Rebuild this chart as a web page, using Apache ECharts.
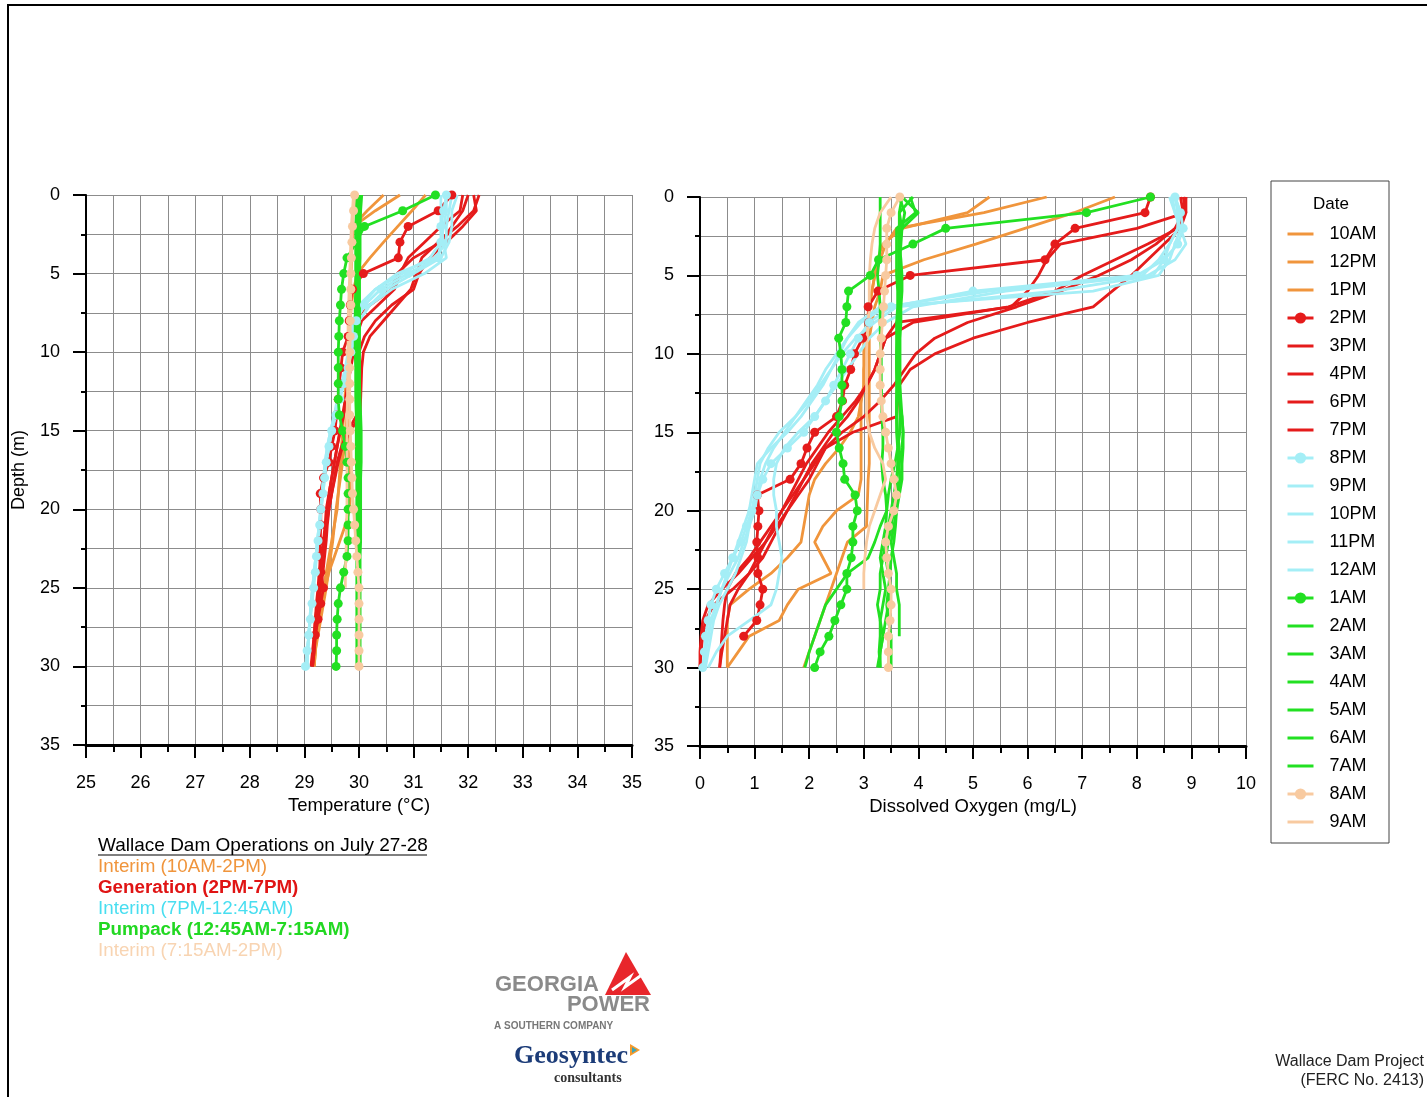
<!DOCTYPE html>
<html>
<head>
<meta charset="utf-8">
<title>Wallace Dam profiles</title>
<script src="https://cdn.jsdelivr.net/npm/echarts@6/dist/echarts.min.js"></script>
<style>
html, body { margin: 0; padding: 0; background: #fff; }
#chart { width: 1427px; height: 1097px; }
</style>
</head>
<body>
<div id="chart"></div>
<script>
// depth of each reading (m), shared by all profiles
const depths = [0, 1, 2, 3, 4, 5, 6, 7, 8, 9, 10, 11, 12, 13, 14, 15, 16, 17, 18, 19, 20, 21, 22, 23, 24, 25, 26, 27, 28, 29, 30];

const seriesNames = ['10AM', '12PM', '1PM', '2PM', '3PM', '4PM', '6PM', '7PM', '8PM', '9PM', '10PM', '11PM', '12AM',
  '1AM', '2AM', '3AM', '4AM', '5AM', '6AM', '7AM', '8AM', '9AM'];
const markerNames = ['2PM', '8PM', '1AM', '8AM'];

const tempTicks = [25, 26, 27, 28, 29, 30, 31, 32, 33, 34, 35];
const doTicks = [0, 1, 2, 3, 4, 5, 6, 7, 8, 9, 10];
const depthTicks = [0, 5, 10, 15, 20, 25, 30, 35];

// temperature (°C) by depth
const temp10AM = [30.45, 30.15, 29.88, 29.87, 29.86, 29.85, 29.84, 29.83, 29.82, 29.82, 29.81, 29.8, 29.8, 29.79, 29.78, 29.76, 29.73, 29.7, 29.66, 29.62, 29.58, 29.55, 29.52, 29.48, 29.44, 29.4, 29.35, 29.3, 29.25, 29.2, 29.18];
const temp12PM = [30.75, 30.3, 29.9, 29.88, 29.86, 29.85, 29.84, 29.83, 29.82, 29.82, 29.82, 29.82, 29.82, 29.81, 29.8, 29.8, 29.8, 29.82, 29.83, 29.84, 29.83, 29.75, 29.65, 29.55, 29.45, 29.38, 29.32, 29.27, 29.23, 29.2, 29.18];
const temp1PM = [31.22, 30.97, 30.71, 30.45, 30.2, 29.97, 29.9, 29.86, 29.84, 29.82, 29.8, 29.78, 29.76, 29.74, 29.72, 29.7, 29.68, 29.66, 29.64, 29.62, 29.6, 29.55, 29.5, 29.45, 29.4, 29.35, 29.3, 29.26, 29.22, 29.2, 29.18];
const temp2PM = [31.7, 31.45, 30.9, 30.75, 30.72, 30.08, 29.88, 29.84, 29.82, 29.8, 29.7, 29.67, 29.64, 29.62, 29.59, 29.56, 29.5, 29.45, 29.35, 29.29, 29.3, 29.3, 29.29, 29.28, 29.3, 29.35, 29.3, 29.25, 29.2];
const temp3PM = [31.9, 31.85, 31.5, 31.2, 30.9, 30.75, 30.65, 30.35, 30.05, 29.95, 29.9, 29.85, 29.8, 29.75, 29.7, 29.65, 29.6, 29.55, 29.5, 29.45, 29.4, 29.38, 29.35, 29.3, 29.27, 29.25, 29.22, 29.2, 29.18, 29.16, 29.15];
const temp4PM = [32.0, 31.9, 31.7, 31.5, 31.0, 30.7, 30.6, 30.2, 29.95, 29.9, 29.85, 29.82, 29.8, 29.78, 29.72, 29.66, 29.6, 29.55, 29.5, 29.45, 29.42, 29.4, 29.38, 29.35, 29.3, 29.27, 29.25, 29.22, 29.2, 29.18, 29.15];
const temp6PM = [32.1, 32.15, 31.9, 31.6, 31.3, 31.1, 31.0, 30.6, 30.3, 30.1, 30.0, 29.98, 29.97, 29.97, 29.96, 29.8, 29.68, 29.6, 29.55, 29.5, 29.45, 29.42, 29.4, 29.37, 29.34, 29.3, 29.27, 29.24, 29.2, 29.18, 29.15];
const temp7PM = [32.2, 32.1, 31.8, 31.45, 31.15, 31.05, 30.95, 30.7, 30.45, 30.2, 30.08, 30.05, 30.04, 30.03, 30.02, 29.85, 29.7, 29.62, 29.56, 29.5, 29.45, 29.4, 29.37, 29.34, 29.3, 29.27, 29.24, 29.2, 29.18, 29.15, 29.12];
const temp8PM = [31.6, 31.55, 31.5, 31.5, 31.45, 30.9, 30.4, 30.1, 29.95, 29.9, 29.85, 29.8, 29.72, 29.65, 29.58, 29.5, 29.45, 29.4, 29.37, 29.34, 29.3, 29.28, 29.25, 29.22, 29.2, 29.17, 29.14, 29.11, 29.08, 29.05, 29.02];
const temp9PM = [31.7, 31.65, 31.6, 31.6, 31.4, 30.7, 30.3, 30.0, 29.9, 29.85, 29.8, 29.75, 29.68, 29.6, 29.55, 29.48, 29.42, 29.38, 29.35, 29.32, 29.3, 29.27, 29.24, 29.21, 29.18, 29.15, 29.12, 29.1, 29.08, 29.06, 29.04];
const temp10PM = [31.8, 31.7, 31.7, 31.65, 31.5, 31.0, 30.5, 30.2, 30.0, 29.9, 29.82, 29.76, 29.7, 29.63, 29.56, 29.5, 29.45, 29.4, 29.36, 29.33, 29.3, 29.27, 29.24, 29.21, 29.18, 29.15, 29.13, 29.1, 29.08, 29.06, 29.05];
const temp11PM = [31.5, 31.5, 31.5, 31.55, 31.6, 31.2, 30.6, 30.2, 30.0, 29.92, 29.86, 29.8, 29.72, 29.64, 29.57, 29.5, 29.44, 29.4, 29.37, 29.34, 29.31, 29.28, 29.25, 29.22, 29.19, 29.16, 29.13, 29.1, 29.08, 29.06, 29.05];
const temp12AM = [31.6, 31.6, 31.55, 31.5, 31.3, 30.8, 30.3, 30.05, 29.95, 29.88, 29.82, 29.76, 29.7, 29.62, 29.55, 29.48, 29.42, 29.38, 29.35, 29.32, 29.3, 29.27, 29.24, 29.21, 29.18, 29.15, 29.12, 29.1, 29.08, 29.06, 29.04];
const temp1AM = [31.4, 30.8, 30.1, 29.95, 29.78, 29.72, 29.68, 29.66, 29.64, 29.63, 29.62, 29.62, 29.62, 29.62, 29.64, 29.7, 29.75, 29.78, 29.8, 29.8, 29.8, 29.8, 29.8, 29.78, 29.72, 29.66, 29.62, 29.6, 29.59, 29.59, 29.58];
const temp2AM = [29.98, 29.97, 29.97, 29.97, 29.97, 29.97, 29.96, 29.96, 29.96, 29.96, 29.96, 29.96, 29.96, 29.97, 29.97, 29.98, 29.98, 29.98, 29.98, 29.98, 29.98, 29.98, 29.98, 29.98, 29.98, 29.98, 29.98, 29.98, 29.98, 29.98, 29.98];
const temp3AM = [30.02, 30.0, 30.0, 29.99, 29.99, 29.99, 29.99, 29.99, 29.99, 29.99, 29.99, 30.0, 30.0, 30.0, 30.01, 30.01, 30.01, 30.01, 30.01, 30.01, 30.0, 30.0, 30.0, 30.0, 30.0, 30.0, 30.0, 30.0, 30.0];
const temp4AM = [29.95, 29.95, 29.94, 29.94, 29.94, 29.94, 29.94, 29.93, 29.93, 29.93, 29.93, 29.94, 29.94, 29.94, 29.95, 29.95, 29.95, 29.95, 29.96, 29.96, 29.96, 29.96, 29.96, 29.96, 29.96, 29.96, 29.96, 29.96, 29.96, 29.96, 29.96];
const temp5AM = [30.0, 29.99, 29.98, 29.98, 29.98, 29.98, 29.98, 29.97, 29.97, 29.97, 29.97, 29.97, 29.97, 29.98, 29.98, 29.99, 29.99, 30.0, 30.0, 30.0, 30.0, 30.0, 30.0, 30.0, 29.99, 29.99, 29.99, 29.99, 29.99, 29.99, 29.99];
const temp6AM = [30.05, 30.03, 30.02, 30.02, 30.02, 30.01, 30.01, 30.01, 30.01, 30.01, 30.01, 30.01, 30.01, 30.02, 30.03, 30.04, 30.04, 30.04, 30.03, 30.03, 30.03, 30.03, 30.03, 30.02, 30.02, 30.02, 30.02, 30.02, 30.02, 30.02, 30.02];
const temp7AM = [29.97, 29.96, 29.95, 29.95, 29.95, 29.95, 29.95, 29.95, 29.95, 29.95, 29.95, 29.95, 29.95, 29.96, 29.96, 29.97, 29.97, 29.97, 29.97, 29.97, 29.97, 29.97, 29.98, 29.98, 29.98, 29.98, 29.98, 29.98, 29.98, 29.98, 29.98];
const temp8AM = [29.92, 29.9, 29.88, 29.87, 29.86, 29.85, 29.85, 29.85, 29.84, 29.84, 29.83, 29.83, 29.83, 29.83, 29.83, 29.84, 29.85, 29.86, 29.87, 29.88, 29.9, 29.92, 29.94, 29.96, 29.98, 30.0, 30.0, 30.0, 30.0, 30.0, 30.0];
const temp9AM = [29.9, 29.88, 29.86, 29.85, 29.84, 29.83, 29.82, 29.81, 29.8, 29.8, 29.8, 29.8, 29.79, 29.79, 29.78, 29.78, 29.78, 29.78, 29.78, 29.78, 29.78, 29.77, 29.77, 29.76, 29.75, 29.75];

// dissolved oxygen (mg/L) by depth
const do10AM = [5.3, 4.9, 3.7, 3.35, 3.25, 3.2, 3.15, 3.1, 3.1, 3.05, 3.05, 3.0, 3.0, 2.95, 2.9, 2.75, 2.55, 2.3, 2.1, 2.0, 1.95, 1.9, 1.85, 1.6, 1.3, 0.9, 0.55, 0.5, 0.5, 0.5, 0.5];
const do12PM = [6.35, 5.2, 3.6, 3.4, 3.3, 3.2, 3.15, 3.1, 3.05, 3.0, 3.0, 3.0, 3.0, 2.95, 2.95, 2.95, 2.95, 2.95, 2.95, 2.9, 2.5, 2.25, 2.1, 2.25, 2.4, 1.8, 1.6, 1.45, 0.9, 0.7, 0.5];
const do1PM = [7.6, 6.85, 5.95, 5.05, 4.1, 3.35, 3.3, 3.2, 3.15, 3.1, 3.1, 3.1, 3.1, 3.1, 3.1, 3.1, 3.1, 3.1, 3.08, 3.07, 3.06, 3.05, 2.7, 2.6, 2.5, 2.4, 2.3, 2.2, 2.1, 2.0, 1.9];
const do2PM = [8.25, 8.15, 6.87, 6.5, 6.32, 3.85, 3.26, 3.08, 3.09, 2.98, 2.83, 2.76, 2.65, 2.61, 2.5, 2.1, 1.96, 1.85, 1.65, 1.05, 1.08, 1.06, 1.04, 1.06, 1.06, 1.15, 1.1, 1.04, 0.8];
const do3PM = [8.85, 8.9, 8.0, 6.6, 6.35, 6.2, 6.0, 5.7, 3.6, 3.4, 3.3, 3.2, 3.05, 2.85, 2.6, 2.35, 2.15, 1.95, 1.8, 1.65, 1.5, 1.35, 1.2, 1.05, 0.9, 0.7, 0.55, 0.5, 0.45, 0.4, 0.36];
const do4PM = [8.9, 8.85, 8.75, 8.2, 7.6, 7.0, 6.5, 5.65, 3.9, 3.4, 3.3, 3.2, 3.05, 2.9, 2.7, 2.45, 2.25, 2.05, 1.9, 1.75, 1.6, 1.45, 1.3, 1.15, 0.9, 0.6, 0.25, 0.1, 0.05, 0.02, 0.0];
const do6PM = [8.9, 8.9, 8.8, 8.5, 8.2, 7.9, 7.55, 7.2, 6.0, 5.0, 4.3, 3.85, 3.65, 3.62, 3.6, 2.8, 2.3, 2.15, 2.0, 1.8, 1.6, 1.4, 1.2, 0.95, 0.7, 0.4, 0.15, 0.05, 0.02, 0.0, 0.0];
const do7PM = [8.8, 8.85, 8.7, 8.35, 7.9, 7.3, 6.6, 5.8, 4.9, 4.3, 3.95, 3.75, 3.55, 3.3, 3.0, 2.6, 2.3, 2.1, 1.9, 1.7, 1.5, 1.3, 1.1, 0.9, 0.65, 0.5, 0.45, 0.42, 0.4, 0.38, 0.36];
const do8PM = [8.7, 8.8, 8.85, 8.75, 8.5, 8.0, 5.0, 3.5, 3.1, 2.9, 2.75, 2.6, 2.45, 2.3, 2.1, 1.9, 1.6, 1.3, 1.15, 1.05, 0.95, 0.85, 0.75, 0.6, 0.45, 0.3, 0.2, 0.15, 0.1, 0.08, 0.05];
const do9PM = [8.6, 8.7, 8.8, 8.7, 8.6, 8.4, 7.2, 3.3, 2.9, 2.7, 2.55, 2.4, 2.25, 2.05, 1.85, 1.6, 1.3, 1.05, 1.0, 0.95, 0.9, 0.8, 0.7, 0.6, 0.5, 0.4, 0.3, 0.2, 0.15, 0.1, 0.1];
const do10PM = [8.7, 8.75, 8.75, 8.6, 8.5, 8.3, 6.5, 3.6, 3.2, 2.85, 2.6, 2.4, 2.2, 2.0, 1.75, 1.45, 1.25, 1.1, 1.05, 1.0, 0.95, 0.9, 0.85, 0.75, 0.65, 0.5, 0.35, 0.25, 0.2, 0.15, 0.1];
const do11PM = [8.65, 8.7, 8.8, 8.9, 8.7, 8.2, 5.6, 3.9, 3.4, 3.1, 2.9, 2.7, 2.5, 2.3, 2.1, 1.8, 1.55, 1.4, 1.35, 1.35, 1.4, 1.4, 1.45, 1.5, 1.45, 1.4, 1.3, 0.9, 0.5, 0.3, 0.15];
const do12AM = [8.7, 8.8, 8.75, 8.6, 8.4, 8.1, 5.3, 3.4, 2.95, 2.7, 2.5, 2.3, 2.15, 1.95, 1.75, 1.55, 1.35, 1.2, 1.1, 1.05, 1.0, 0.9, 0.8, 0.7, 0.55, 0.4, 0.3, 0.2, 0.15, 0.1, 0.08];
const do1AM = [8.25, 7.08, 4.5, 3.9, 3.27, 3.12, 2.72, 2.69, 2.67, 2.54, 2.58, 2.6, 2.6, 2.6, 2.55, 2.5, 2.55, 2.62, 2.65, 2.84, 2.88, 2.8, 2.8, 2.77, 2.69, 2.69, 2.58, 2.47, 2.36, 2.2, 2.1];
const do2AM = [3.65, 3.75, 3.7, 3.65, 3.65, 3.65, 3.65, 3.65, 3.65, 3.62, 3.6, 3.6, 3.6, 3.6, 3.6, 3.62, 3.65, 3.62, 3.6, 3.6, 3.55, 3.5, 3.45, 3.4, 3.45, 3.5, 3.45, 3.4, 3.35, 3.3, 3.3];
const do3AM = [3.85, 3.95, 3.6, 3.6, 3.6, 3.6, 3.62, 3.62, 3.6, 3.6, 3.6, 3.6, 3.62, 3.65, 3.7, 3.72, 3.72, 3.7, 3.7, 3.65, 3.6, 3.55, 3.5, 3.55, 3.6, 3.6, 3.65, 3.65, 3.65];
const do4AM = [3.3, 3.3, 3.3, 3.3, 3.28, 3.25, 3.28, 3.3, 3.3, 3.3, 3.32, 3.32, 3.32, 3.33, 3.33, 3.35, 3.35, 3.33, 3.35, 3.4, 3.42, 3.4, 3.35, 3.3, 3.35, 3.4, 3.35, 3.3, 3.3, 3.28, 3.3];
const do5AM = [3.7, 3.65, 3.65, 3.65, 3.65, 3.65, 3.65, 3.65, 3.66, 3.66, 3.66, 3.66, 3.66, 3.66, 3.66, 3.66, 3.62, 3.57, 3.5, 3.45, 3.42, 3.3, 3.2, 3.08, 2.7, 2.5, 2.3, 2.2, 2.1, 2.0, 1.92];
const do6AM = [3.7, 4.0, 3.7, 3.65, 3.68, 3.7, 3.7, 3.68, 3.68, 3.66, 3.66, 3.66, 3.66, 3.68, 3.7, 3.72, 3.7, 3.65, 3.6, 3.55, 3.5, 3.45, 3.4, 3.35, 3.3, 3.3, 3.25, 3.3, 3.35, 3.3, 3.25];
const do7AM = [3.9, 3.65, 3.7, 3.68, 3.66, 3.66, 3.65, 3.64, 3.64, 3.62, 3.62, 3.62, 3.62, 3.6, 3.6, 3.6, 3.62, 3.65, 3.66, 3.62, 3.6, 3.58, 3.55, 3.5, 3.48, 3.45, 3.42, 3.45, 3.5, 3.5, 3.5];
const do8AM = [3.66, 3.5, 3.42, 3.42, 3.42, 3.4, 3.38, 3.36, 3.34, 3.32, 3.3, 3.3, 3.3, 3.32, 3.35, 3.4, 3.45, 3.5, 3.55, 3.6, 3.55, 3.45, 3.4, 3.42, 3.45, 3.5, 3.5, 3.48, 3.45, 3.45, 3.45];
const do9AM = [3.5, 3.3, 3.2, 3.15, 3.12, 3.1, 3.1, 3.1, 3.08, 3.06, 3.05, 3.05, 3.05, 3.05, 3.05, 3.1, 3.2, 3.35, 3.4, 3.3, 3.2, 3.1, 3.05, 3.02, 3.0, 3.0];

const tempProfiles = [temp10AM, temp12PM, temp1PM, temp2PM, temp3PM, temp4PM, temp6PM, temp7PM, temp8PM, temp9PM, temp10PM,
  temp11PM, temp12AM, temp1AM, temp2AM, temp3AM, temp4AM, temp5AM, temp6AM, temp7AM, temp8AM, temp9AM];
const doProfiles = [do10AM, do12PM, do1PM, do2PM, do3PM, do4PM, do6PM, do7PM, do8PM, do9PM, do10PM,
  do11PM, do12AM, do1AM, do2AM, do3AM, do4AM, do5AM, do6AM, do7AM, do8AM, do9AM];

const ORANGE = '#f0953c';
const RED = '#e51b1b';
const CYAN = '#a4eef6';
const GREEN = '#22e022';
const PEACH = '#f8caa0';

const colorFor = (name) => {
  if (['10AM', '12PM', '1PM'].includes(name)) return ORANGE;
  if (['2PM', '3PM', '4PM', '6PM', '7PM'].includes(name)) return RED;
  if (['8PM', '9PM', '10PM', '11PM', '12AM'].includes(name)) return CYAN;
  if (['8AM', '9AM'].includes(name)) return PEACH;
  return GREEN;
};

const FONT = 'Liberation Sans, Arial, sans-serif';

const xAxisFor = (gridIndex, min, max, name, nameGap) => ({
  type: 'value',
  gridIndex,
  min,
  max,
  interval: 1,
  position: 'bottom',
  name,
  nameLocation: 'middle',
  nameGap,
  nameTextStyle: { fontSize: 18.5, color: '#000', fontFamily: FONT },
  axisLine: { show: true, onZero: false, lineStyle: { color: '#000', width: 3 } },
  axisTick: { show: true, length: 13, lineStyle: { color: '#000', width: 2 } },
  minorTick: { show: true, splitNumber: 2, length: 7, lineStyle: { color: '#000', width: 2 } },
  axisLabel: { fontSize: 18, color: '#000', margin: 29, fontFamily: FONT },
  splitLine: { show: true, lineStyle: { color: '#8c8c8c', width: 1 } },
  minorSplitLine: { show: true, lineStyle: { color: '#8c8c8c', width: 1 } },
});

const yAxisFor = (gridIndex, name) => ({
  type: 'value',
  gridIndex,
  inverse: true,
  min: depthTicks[0],
  max: depthTicks[depthTicks.length - 1],
  interval: 5,
  name,
  nameLocation: 'middle',
  nameGap: 58,
  nameRotate: 90,
  nameTextStyle: { fontSize: 18, color: '#000', fontFamily: FONT },
  axisLine: { show: true, onZero: false, lineStyle: { color: '#000', width: 2 } },
  axisTick: { show: true, length: 13, lineStyle: { color: '#000', width: 2 } },
  minorTick: { show: true, splitNumber: 2, length: 5, lineStyle: { color: '#000', width: 2 } },
  axisLabel: { fontSize: 18, color: '#000', margin: 26, fontFamily: FONT },
  splitLine: { show: true, lineStyle: { color: '#8c8c8c', width: 1 } },
  minorSplitLine: { show: true, lineStyle: { color: '#8c8c8c', width: 1 } },
});

const buildSeries = (profiles, axisIndex) => seriesNames.map((name, i) => {
  const color = colorFor(name);
  const hasMarker = markerNames.includes(name);
  return {
    name,
    type: 'line',
    xAxisIndex: axisIndex,
    yAxisIndex: axisIndex,
    data: profiles[i].map((v, k) => [v, depths[k]]),
    color,
    symbol: hasMarker ? 'circle' : 'none',
    symbolSize: 9,
    showSymbol: hasMarker,
    lineStyle: { color, width: 2.8 },
    itemStyle: { color },
    emphasis: { disabled: true },
    z: 2,
  };
});

// legend: only the marker series show a dot over the line
const legendData = seriesNames.map((name) => (markerNames.includes(name)
  ? { name }
  : { name, itemStyle: { opacity: 0 } }));

const legendTexts = [
  { text: 'Interim (10AM-2PM)', color: ORANGE, weight: 'normal' },
  { text: 'Generation (2PM-7PM)', color: '#e01414', weight: 'bold' },
  { text: 'Interim (7PM-12:45AM)', color: '#48def0', weight: 'normal' },
  { text: 'Pumpack (12:45AM-7:15AM)', color: '#22d822', weight: 'bold' },
  { text: 'Interim (7:15AM-2PM)', color: '#f8d4b2', weight: 'normal' },
];

const buildGraphic = () => {
  const items = [
    { type: 'rect', shape: { x: 8, y: 5, width: 1440, height: 1110 }, style: { fill: 'none', stroke: '#000', lineWidth: 2 }, silent: true },
    { type: 'rect', shape: { x: 1271, y: 181, width: 118, height: 662 }, style: { fill: 'none', stroke: '#444', lineWidth: 1 }, silent: true },
    { type: 'text', x: 1331, y: 204, style: { text: 'Date', fill: '#000', font: '17px ' + FONT, textAlign: 'center', textVerticalAlign: 'middle' } },
    { type: 'text', x: 98, y: 846, style: { text: 'Wallace Dam Operations on July 27-28', fill: '#000', font: '19px ' + FONT, textVerticalAlign: 'middle' } },
    { type: 'line', shape: { x1: 98, y1: 855, x2: 427, y2: 855 }, style: { stroke: '#000', lineWidth: 1.2 } },
  ];
  legendTexts.forEach((t, i) => {
    items.push({
      type: 'text', x: 98, y: 867 + i * 21,
      style: { text: t.text, fill: t.color, font: t.weight + ' 18.8px ' + FONT, textVerticalAlign: 'middle' },
    });
  });
  // Georgia Power logo
  items.push(
    { type: 'polygon', shape: { points: [[626, 952], [651, 995], [605, 995]] }, style: { fill: '#e8262b' } },
    { type: 'polyline', shape: { points: [[612, 990], [630, 977], [625, 987], [643, 974]] }, style: { stroke: '#fff', lineWidth: 3, fill: 'none' } },
    { type: 'text', x: 495, y: 985, style: { text: 'GEORGIA', fill: '#8a8a8a', font: 'bold 22px ' + FONT, textVerticalAlign: 'middle' } },
    { type: 'text', x: 650, y: 1005, style: { text: 'POWER', fill: '#8a8a8a', font: 'bold 22px ' + FONT, textAlign: 'right', textVerticalAlign: 'middle' } },
    { type: 'text', x: 494, y: 1026, style: { text: 'A SOUTHERN COMPANY', fill: '#777', font: 'bold 10px ' + FONT, textVerticalAlign: 'middle' } },
    { type: 'text', x: 514, y: 1056, style: { text: 'Geosyntec', fill: '#1c3c78', font: 'bold 26px Liberation Serif, serif', textVerticalAlign: 'middle' } },
    { type: 'polygon', shape: { points: [[630, 1044], [640, 1050], [630, 1056]] }, style: { fill: '#f59a2c' } },
    { type: 'polygon', shape: { points: [[632, 1047], [637, 1050], [632, 1053]] }, style: { fill: '#3aa6b9' } },
    { type: 'text', x: 554, y: 1078, style: { text: 'consultants', fill: '#333', font: 'bold 14px Liberation Serif, serif', textVerticalAlign: 'middle' } },
    { type: 'text', x: 1424, y: 1062, style: { text: 'Wallace Dam Project', fill: '#222', font: '16px ' + FONT, textAlign: 'right', textVerticalAlign: 'middle' } },
    { type: 'text', x: 1424, y: 1081, style: { text: '(FERC No. 2413)', fill: '#222', font: '16px ' + FONT, textAlign: 'right', textVerticalAlign: 'middle' } },
  );
  return items;
};

const buildOption = () => ({
  animation: false,
  backgroundColor: '#fff',
  textStyle: { fontFamily: FONT },
  grid: [
    { left: 86, top: 195, width: 546, height: 550, containLabel: false },
    { left: 700, top: 197, width: 546, height: 549, containLabel: false },
  ],
  xAxis: [
    xAxisFor(0, tempTicks[0], tempTicks[tempTicks.length - 1], 'Temperature (°C)', 50),
    xAxisFor(1, doTicks[0], doTicks[doTicks.length - 1], 'Dissolved Oxygen (mg/L)', 51),
  ],
  yAxis: [yAxisFor(0, 'Depth (m)'), yAxisFor(1, '')],
  legend: {
    data: legendData,
    orient: 'vertical',
    left: 1281,
    top: 220,
    itemWidth: 26,
    itemHeight: 14,
    itemGap: 10,
    selectedMode: false,
    lineStyle: { width: 3 },
    textStyle: { fontSize: 18, color: '#000', fontFamily: FONT, padding: [0, 0, 0, 11] },
  },
  graphic: buildGraphic(),
  series: [...buildSeries(tempProfiles, 0), ...buildSeries(doProfiles, 1)],
});

const chart = echarts.init(document.getElementById('chart'), null, { renderer: 'canvas' });
chart.setOption(buildOption());
</script>
</body>
</html>
